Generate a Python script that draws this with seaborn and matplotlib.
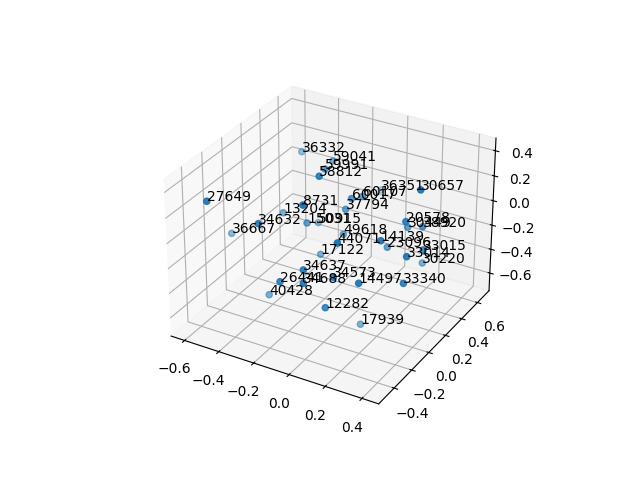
import pandas as pd
import matplotlib
matplotlib.use("Agg")
import matplotlib.pyplot as plt
import seaborn as sns

# labels and 3d positions
ids = ["36332", "59041", "59991", "58812", "27649", "8731", "13204", "34632", "36667",
       "15031", "50915", "60017", "60107", "37794", "36351", "30657", "20578", "30449",
       "38920", "49618", "44071", "14139", "23096", "33014", "33015", "30220", "14497",
       "33340", "17122", "34637", "34573", "26441", "34688", "40428", "12282", "17939"]
x_vals = [-0.441, -0.231, -0.194, -0.092, -0.495, -0.068, -0.38, -0.287, -0.61,
          -0.204, -0.28, -0.016, -0.001, -0.057, -0.123, 0.369, 0.32, 0.228,
          0.344, -0.095, 0.117, 0.265, 0.166, 0.39, 0.4, 0.28, 0.225,
          0.383, -0.168, -0.046, 0.114, -0.128, -0.002, -0.339, 0.062, 0.082]
y_vals = [0.411, 0.355, 0.195, -0.064, -0.477, -0.282, 0.09, -0.338, -0.047,
          0.016, 0.284, 0.14, 0.233, 0.156, 0.70, 0.121, 0.063, 0.284,
          0.21, 0.206, -0.278, -0.103, 0.18, -0.071, 0.1, 0.358, -0.261,
          -0.087, 0.094, -0.325, -0.315, -0.415, -0.409, -0.148, -0.3, 0.052]
z_vals = [0.24, 0.276, 0.319, 0.453, 0.35, 0.371, -0.041, 0.174, -0.217,
          -0.007, -0.201, 0.187, 0.153, 0.075, -0.121, 0.416, 0.186, -0.033,
          0.065, -0.173, 0.151, 0.119, -0.154, 0.026, -0.027, -0.349, -0.129,
          -0.177, -0.296, -0.098, -0.094, -0.167, -0.129, -0.543, -0.369, -0.739]

df = pd.DataFrame({"id": ids, "x": x_vals, "y": y_vals, "z": z_vals})

fig = plt.figure(figsize=(6.4, 4.8), dpi=100)
ax = fig.add_subplot(projection="3d")
ax.scatter(df["x"], df["y"], df["z"], color=sns.color_palette("tab10")[0])

# label every point at its own position
for _, row in df.iterrows():
    ax.text(row["x"], row["y"], row["z"], row["id"])

ax.set_xlim(-0.68, 0.49)
ax.set_ylim(-0.57, 0.75)
ax.set_zlim(-0.75, 0.50)

plt.savefig("out.png", dpi=100)
